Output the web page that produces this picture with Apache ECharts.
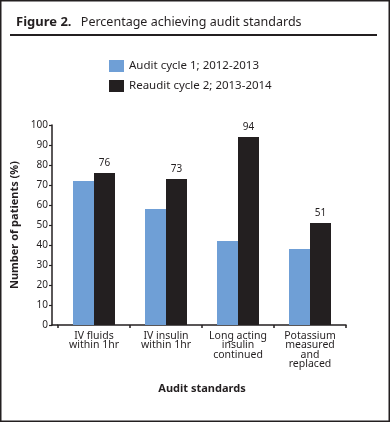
<!DOCTYPE html>
<html>
<head>
<meta charset="utf-8">
<script src="https://cdn.jsdelivr.net/npm/echarts@6/dist/echarts.min.js"></script>
<style>
  html, body { margin: 0; padding: 0; background: #fff; }
  #chart { width: 390px; height: 422px; }
</style>
</head>
<body>
<div id="chart"></div>
<script>
const categories = [
  'IV fluids\nwithin 1hr',
  'IV insulin\nwithin 1hr',
  'Long acting\ninsulin\ncontinued',
  'Potassium\nmeasured\nand\nreplaced'
];
const seriesNames = ['Audit cycle 1; 2012-2013', 'Reaudit cycle 2; 2013-2014'];
const cycle1 = [72, 58, 42, 38];
const cycle2 = [76, 73, 94, 51];
const yTicks = { min: 0, max: 100, interval: 10 };

const FONT = '"Noto Sans", "Open Sans", sans-serif';
const DARK = '#231f20';
const BLUE = '#6f9fd6';

const chart = echarts.init(document.getElementById('chart'), null, { renderer: 'canvas' });
chart.setOption({
  animation: false,
  backgroundColor: '#fff',
  textStyle: { fontFamily: FONT, color: DARK },
  title: {
    left: 11, top: 8,
    text: '{b|Figure 2.}  {n|Percentage achieving audit standards}',
    textStyle: {
      fontWeight: 'normal',
      rich: {
        b: { fontFamily: FONT, fontWeight: 'bold', fontSize: 13, color: DARK },
        n: { fontFamily: FONT, fontWeight: 'normal', fontSize: 12.5, color: DARK }
      }
    }
  },
  legend: {
    orient: 'vertical',
    left: 104, top: 55,
    itemWidth: 15, itemHeight: 12, itemGap: 8,
    icon: 'rect',
    textStyle: { fontFamily: FONT, fontSize: 11.5, color: DARK, lineHeight: 12 },
    data: seriesNames
  },
  grid: { left: 58, top: 125, width: 288, height: 200, containLabel: false },
  xAxis: {
    type: 'category',
    data: categories,
    name: 'Audit standards',
    nameLocation: 'middle',
    nameGap: 58,
    nameTextStyle: { fontFamily: FONT, fontWeight: 'bold', fontSize: 11, color: DARK },
    axisLine: { lineStyle: { color: DARK, width: 1.5 } },
    axisTick: { show: true, length: 3, lineStyle: { color: DARK, width: 1.5 } },
    axisLabel: { interval: 0, fontFamily: FONT, fontSize: 10.5, lineHeight: 9.5, color: DARK, margin: 6 }
  },
  yAxis: {
    type: 'value',
    min: yTicks.min, max: yTicks.max, interval: yTicks.interval,
    offset: 6,
    name: 'Number of patients (%)',
    nameLocation: 'middle',
    nameGap: 31,
    nameTextStyle: { fontFamily: FONT, fontWeight: 'bold', fontSize: 11, color: DARK },
    axisLine: { show: true, lineStyle: { color: DARK, width: 1.5 } },
    axisTick: { show: true, length: 3, lineStyle: { color: DARK, width: 1.2 } },
    axisLabel: { fontFamily: FONT, fontSize: 10, color: DARK, margin: 4 },
    splitLine: { show: false }
  },
  series: [
    {
      name: seriesNames[0], type: 'bar', data: cycle1,
      barWidth: 21, barGap: '0%',
      itemStyle: { color: BLUE }
    },
    {
      name: seriesNames[1], type: 'bar', data: cycle2,
      barWidth: 21,
      itemStyle: { color: DARK },
      label: { show: true, position: 'top', distance: 5, fontFamily: FONT, fontSize: 10, color: DARK }
    }
  ],
  graphic: [
    { type: 'rect', shape: { x: 0.75, y: 0.75, width: 388.5, height: 420.5 }, style: { fill: null, stroke: DARK, lineWidth: 1.5 }, silent: true },
    { type: 'line', shape: { x1: 10, y1: 35, x2: 377, y2: 35 }, style: { stroke: DARK, lineWidth: 2 }, silent: true },
    { type: 'line', shape: { x1: 51.5, y1: 325, x2: 58, y2: 325 }, style: { stroke: DARK, lineWidth: 1.5 }, silent: true }
  ]
});
</script>
</body>
</html>
